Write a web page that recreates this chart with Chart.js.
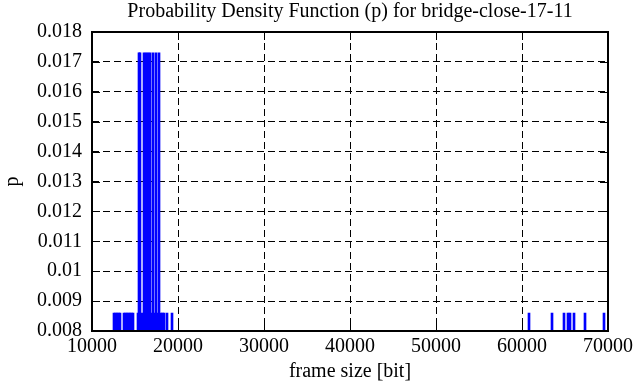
<!DOCTYPE html>
<html>
<head>
<meta charset="utf-8">
<script src="https://cdn.jsdelivr.net/npm/chart.js@4.4.0/dist/chart.umd.min.js"></script>
<style>
  html, body { margin: 0; padding: 0; background: #fff; }
</style>
</head>
<body>
<canvas id="myChart" width="637" height="387"></canvas>
<script>
// frame sizes [bit] and their probability
var frameSizes = [12558, 12733, 12907, 13081, 13256,
                  13721, 13895, 14070, 14244, 14419, 14593, 14767,
                  15349, 15465, 15581, 15814, 16047, 16279, 16512, 16744, 16919, 17093,
                  17267, 17442, 17616, 17791, 18023, 18198, 18372, 18721, 19302,
                  60814, 63489, 64884, 65349, 65582, 66047, 67326, 69535];
var probs = [0.0086, 0.0086, 0.0086, 0.0086, 0.0086,
             0.0086, 0.0086, 0.0086, 0.0086, 0.0086, 0.0086, 0.0086,
             0.0086, 0.0173, 0.0173, 0.0086, 0.0173, 0.0173, 0.0173, 0.0173, 0.0086, 0.0173,
             0.0086, 0.0173, 0.0086, 0.0173, 0.0086, 0.0086, 0.0086, 0.0086, 0.0086,
             0.0086, 0.0086, 0.0086, 0.0086, 0.0086, 0.0086, 0.0086, 0.0086];
var xTicks = [10000, 20000, 30000, 40000, 50000, 60000, 70000];
var xTickLabels = ['10000', '20000', '30000', '40000', '50000', '60000', '70000'];
var yTicks = [0.008, 0.009, 0.010, 0.011, 0.012, 0.013, 0.014, 0.015, 0.016, 0.017, 0.018];
var yTickLabels = ['0.008', '0.009', '0.01', '0.011', '0.012', '0.013', '0.014', '0.015', '0.016', '0.017', '0.018'];

var points = [];
for (var i = 0; i < frameSizes.length; i++) {
	points.push({x: frameSizes[i], y: probs[i]});
}

var fontName = "'Liberation Serif', 'DejaVu Serif', serif";
Chart.defaults.color = '#000';
Chart.defaults.font.family = fontName;

// gnuplot style frame with inward tick marks
var framePlugin = {
	id: 'frame',
	afterDraw: function(chart) {
		var ctx = chart.ctx;
		var a = chart.chartArea;
		var xs = chart.scales.x, ys = chart.scales.y;
		var tl = 8;
		ctx.save();
		ctx.strokeStyle = '#000';
		ctx.lineWidth = 1;
		ctx.beginPath();
		xTicks.forEach(function(v){
			var px = Math.round(xs.getPixelForValue(v)) + 0.5;
			ctx.moveTo(px, a.bottom); ctx.lineTo(px, a.bottom - tl);
			ctx.moveTo(px, a.top); ctx.lineTo(px, a.top + tl);
		});
		yTicks.forEach(function(v){
			var py = Math.round(ys.getPixelForValue(v)) + 0.5;
			ctx.moveTo(a.left, py); ctx.lineTo(a.left + tl, py);
			ctx.moveTo(a.right, py); ctx.lineTo(a.right - tl, py);
		});
		ctx.stroke();
		ctx.lineWidth = 2;
		ctx.strokeRect(a.left, a.top, a.right - a.left, a.bottom - a.top);
		ctx.restore();
	}
};

var myChart = new Chart(document.getElementById('myChart').getContext('2d'), {
	type: 'bar',
	data: {
		datasets: [{
			data: points,
			backgroundColor: '#0000ff',
			borderWidth: 0,
			barThickness: 2,
			base: 0.008
		}]
	},
	options: {
		responsive: false,
		animation: false,
		devicePixelRatio: 1,
		layout: { padding: { left: 0, right: 29, top: 0, bottom: 0 } },
		plugins: {
			legend: { display: false },
			tooltip: { enabled: false },
			title: {
				display: true,
				fullSize: false,
				text: 'Probability Density Function (p) for bridge-close-17-11',
				color: '#000',
				font: { family: fontName, size: 20, weight: 'normal', lineHeight: 1.2 },
				padding: { top: 0, bottom: 8 }
			}
		},
		scales: {
			x: {
				type: 'linear',
				min: 10000,
				max: 70000,
				offset: false,
				afterFit: function(scale) { scale.height = 56; },
				afterBuildTicks: function(scale) {
					scale.ticks = xTicks.map(function(v){ return {value: v}; });
				},
				ticks: {
					autoSkip: false,
					maxRotation: 0,
					padding: 4,
					color: '#000',
					font: { family: fontName, size: 20 },
					callback: function(value, index) { return xTickLabels[index]; }
				},
				grid: { color: '#000', lineWidth: 1, drawTicks: false, offset: false },
				border: { display: false, dash: [7, 4] },
				title: {
					display: true,
					text: 'frame size [bit]',
					color: '#000',
					font: { family: fontName, size: 20 },
					padding: { top: 0, bottom: 3 }
				}
			},
			y: {
				min: 0.008,
				max: 0.018,
				afterFit: function(scale) { scale.width = 92; },
				afterBuildTicks: function(scale) {
					scale.ticks = yTicks.map(function(v){ return {value: v}; });
				},
				ticks: {
					autoSkip: false,
					padding: 10,
					color: '#000',
					font: { family: fontName, size: 20 },
					callback: function(value, index) { return yTickLabels[index]; }
				},
				grid: { color: '#000', lineWidth: 1, drawTicks: false },
				border: { display: false, dash: [7, 4] },
				title: {
					display: true,
					text: 'p',
					color: '#000',
					font: { family: fontName, size: 20 },
					padding: { top: 1, bottom: 0 }
				}
			}
		}
	},
	plugins: [framePlugin]
});
</script>
</body>
</html>
